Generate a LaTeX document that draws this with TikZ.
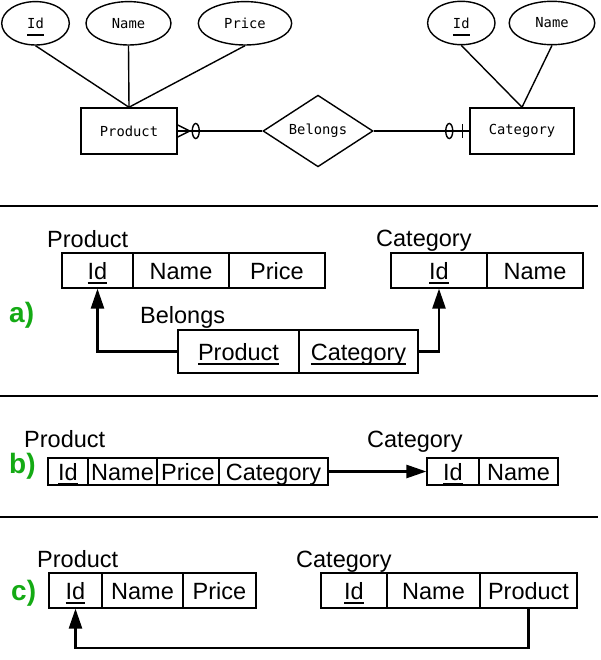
\documentclass[tikz,border=0pt]{standalone}
\usepackage{fontspec}
\setmainfont{Liberation Sans}
\newfontfamily\ermono{DejaVu Sans Mono}
\usetikzlibrary{shapes.geometric,arrows.meta}
\definecolor{lblgreen}{RGB}{20,170,20}
\newcommand\ukey[3]{\setbox0\hbox{#3}\rlap{\smash{\rule[-#1]{\wd0}{#2}}}\box0}
\tikzset{
  erattr/.style={ellipse, draw, line width=1.4bp, inner sep=0pt, minimum height=43.4bp, font=\ermono\fontsize{13.8bp}{16bp}\selectfont},
  erent/.style={rectangle, draw, line width=1.5bp, inner sep=0pt, minimum height=46bp, font=\ermono\fontsize{13.8bp}{16bp}\selectfont},
  errel/.style={diamond, draw, line width=1.4bp, inner sep=0pt, font=\ermono\fontsize{13.8bp}{16bp}\selectfont},
  erline/.style={line width=1.4bp},
  cell/.style={rectangle, draw, line width=1.2bp, inner sep=0pt, text height=20bp, text depth=3bp, font=\fontsize{23.5bp}{28bp}\selectfont},
  tlabel/.style={anchor=base west, inner sep=0pt, font=\fontsize{23.5bp}{28bp}\selectfont},
  seclabel/.style={anchor=base west, inner sep=0pt, text=lblgreen, font=\bfseries\fontsize{28bp}{32bp}\selectfont},
  fk/.style={line width=2.5bp, -{Triangle[length=20bp,width=13bp]}},
  sepline/.style={line width=1.3bp}
}
\begin{document}
\begin{tikzpicture}[x=1bp,y=-1bp]
\useasboundingbox (0,0) rectangle (601,660);

% ---------- ER diagram ----------
\node[erattr, minimum width=67.6bp] (epid) at (35.5,23.3) {\ukey{7.5bp}{1.5bp}{Id}};
\node[erattr, minimum width=85bp] (epname) at (128.5,23.3) {Name};
\node[erattr, minimum width=93.4bp] (epprice) at (245,23.3) {Price};
\node[erattr, minimum width=67.4bp] (ecid) at (461.3,23) {\ukey{7.5bp}{1.5bp}{Id}};
\node[erattr, minimum width=85.6bp] (ecname) at (552,23) {Name};
\node[erent, minimum width=96bp] (eprod) at (129,131) {Product};
\node[erent, minimum width=104bp] (ecat) at (522,131) {Category};
\node[errel, minimum width=110bp, minimum height=68bp] (ebel) at (318,131) {Belongs};

\draw[erline] (epid.south) -- (eprod.north);
\draw[erline] (epname.south) -- (eprod.north);
\draw[erline] (epprice.south) -- (eprod.north);
\draw[erline] (ecid.south) -- (ecat.north);
\draw[erline] (ecname.south) -- (ecat.north);
\draw[erline] (eprod.east) -- (ebel.west);
\draw[erline] (ebel.east) -- (ecat.west);
% crow's foot (many, optional) at Product
\draw[erline] ([yshift=6bp]eprod.east) -- ([xshift=12bp]eprod.east) -- ([yshift=-6bp]eprod.east);
\draw[erline] ([xshift=18bp]eprod.east) ellipse [x radius=3.5bp, y radius=7.5bp];
% one, optional at Category
\draw[erline] ([xshift=-20bp]ecat.west) ellipse [x radius=3.5bp, y radius=7.5bp];
\draw[erline] ([xshift=-7bp,yshift=7bp]ecat.west) -- ([xshift=-7bp,yshift=-7bp]ecat.west);

% separators
\draw[sepline] (0,206) -- (598,206);
\draw[sepline] (0,396) -- (598,396);
\draw[sepline] (0,517) -- (598,517);

% ---------- a) ----------
\node[seclabel] (la) at (9,322) {a)};
\node[tlabel] (alp) at (47,247) {Product};
\node[tlabel] (alc) at (376,246) {Category};
\node[tlabel] (alb) at (140,323) {Belongs};
\node[cell, minimum width=71bp, minimum height=35bp] (apid) at (97.5,270.5) {\ukey{5bp}{2bp}{Id}};
\node[cell, minimum width=96bp, minimum height=35bp] (apname) at (181,270.5) {Name};
\node[cell, minimum width=96bp, minimum height=35bp] (apprice) at (277,270.5) {Price};
\node[cell, minimum width=96bp, minimum height=35bp] (acid) at (439,270.5) {\ukey{5bp}{2bp}{Id}};
\node[cell, minimum width=96bp, minimum height=35bp] (acname) at (535,270.5) {Name};
\node[cell, minimum width=121bp, minimum height=43bp] (abp) at (238.5,351.5) {\ukey{5bp}{2bp}{Product}};
\node[cell, minimum width=119bp, minimum height=43bp] (abc) at (358.5,351.5) {\ukey{5bp}{2bp}{Category}};
\draw[fk] (abp.west) -| (apid.south);
\draw[fk] (abc.east) -| (acid.south);

% ---------- b) ----------
\node[seclabel] (lb) at (9,473) {b)};
\node[tlabel] (blp) at (24,447) {Product};
\node[tlabel] (blc) at (367,447) {Category};
\node[cell, minimum width=40bp, minimum height=27bp] (bpid) at (68,471.5) {\ukey{4.5bp}{2bp}{Id}};
\node[cell, minimum width=69bp, minimum height=27bp] (bpname) at (122.5,471.5) {Name};
\node[cell, minimum width=62bp, minimum height=27bp] (bpprice) at (188,471.5) {Price};
\node[cell, minimum width=109bp, minimum height=27bp] (bpcat) at (273.5,471.5) {Category};
\node[cell, minimum width=52bp, minimum height=27bp] (bcid) at (453,471.5) {\ukey{4.5bp}{2bp}{Id}};
\node[cell, minimum width=79bp, minimum height=27bp] (bcname) at (518.5,471.5) {Name};
\draw[fk] (bpcat.east) -- (bcid.west);

% ---------- c) ----------
\node[seclabel] (lc) at (11,600) {c)};
\node[tlabel] (clp) at (37,567) {Product};
\node[tlabel] (clc) at (296,567) {Category};
\node[cell, minimum width=53bp, minimum height=35bp] (cpid) at (75.5,590.5) {\ukey{4.5bp}{2bp}{Id}};
\node[cell, minimum width=81bp, minimum height=35bp] (cpname) at (142.5,590.5) {Name};
\node[cell, minimum width=73bp, minimum height=35bp] (cpprice) at (219.5,590.5) {Price};
\node[cell, minimum width=66bp, minimum height=35bp] (ccid) at (354,590.5) {\ukey{4.5bp}{2bp}{Id}};
\node[cell, minimum width=93bp, minimum height=35bp] (ccname) at (433.5,590.5) {Name};
\node[cell, minimum width=97bp, minimum height=35bp] (ccprod) at (528.5,590.5) {Product};
\coordinate (cturn) at (75.5,648);
\draw[fk] (ccprod.south) |- (cturn) -- (cpid.south);
\end{tikzpicture}
\end{document}
